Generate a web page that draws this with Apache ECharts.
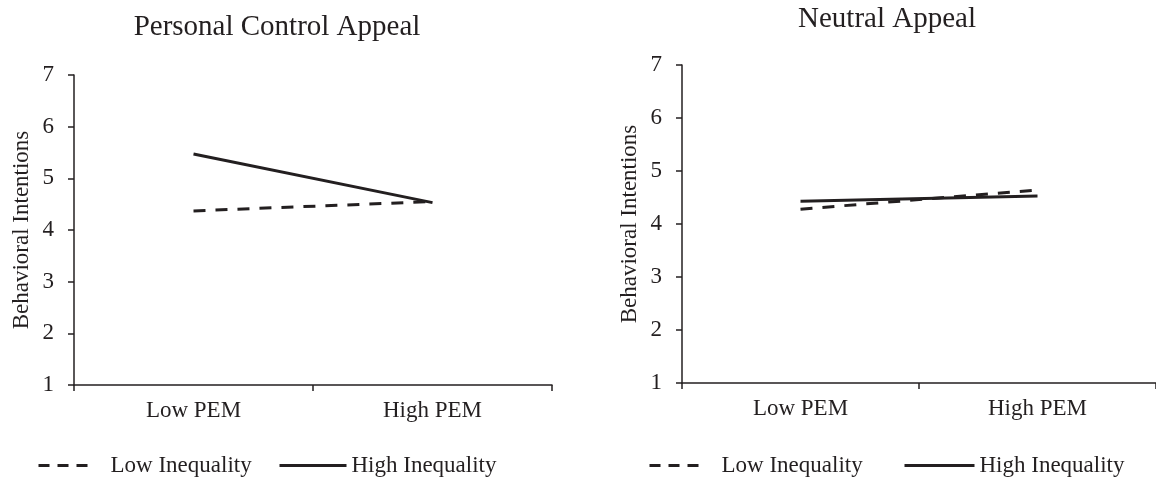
<!DOCTYPE html>
<html>
<head>
<meta charset="utf-8">
<script src="https://cdn.jsdelivr.net/npm/echarts@6/dist/echarts.min.js"></script>
<style>html,body{margin:0;padding:0;background:#fff}#c{width:1156px;height:479px}</style>
</head>
<body>
<div id="c"></div>
<script>
var categories = ['Low PEM', 'High PEM'];
var yTicks = [1, 2, 3, 4, 5, 6, 7];
var titles = ['Personal Control Appeal', 'Neutral Appeal'];
var seriesNames = ['Low Inequality', 'High Inequality'];
var personalLow = [4.37, 4.55];
var personalHigh = [5.47, 4.53];
var neutralLow = [4.28, 4.64];
var neutralHigh = [4.43, 4.53];

var INK = '#231f20';
var FONT = '"Liberation Serif", "DejaVu Serif", serif';

function xAx(i) {
  return {
    type: 'category', gridIndex: i, data: categories, boundaryGap: true,
    axisLine: { lineStyle: { color: INK, width: 1.5 } },
    axisTick: { show: true, inside: false, length: 6, alignWithLabel: false, lineStyle: { color: INK, width: 1.5 } },
    axisLabel: { color: INK, fontFamily: FONT, fontSize: 23, margin: 14 }
  };
}
function yAx(i) {
  return {
    type: 'value', gridIndex: i, min: yTicks[0], max: yTicks[yTicks.length - 1], interval: 1,
    name: 'Behavioral Intentions', nameLocation: 'middle', nameGap: 41,
    nameTextStyle: { color: INK, fontFamily: FONT, fontSize: 23 },
    axisLine: { show: true, lineStyle: { color: INK, width: 1.5 } },
    axisTick: { show: true, inside: false, length: 6, lineStyle: { color: INK, width: 1.5 } },
    splitLine: { show: false },
    axisLabel: { color: INK, fontFamily: FONT, fontSize: 23, margin: 20,
      formatter: function (v) { return yTicks.indexOf(v) >= 0 ? String(v) : ''; } }
  };
}
function ser(name, data, i, dashed) {
  return {
    name: name, type: 'line', xAxisIndex: i, yAxisIndex: i, data: data,
    symbol: 'none', silent: true,
    lineStyle: { color: INK, width: 3, type: dashed ? [12, 10] : 'solid', cap: 'butt' },
    itemStyle: { color: INK }
  };
}
function leg(name, left, w, pad, dash) {
  return {
    data: [{ name: name, textStyle: { padding: [0, 0, 0, pad] } }],
    left: left, top: 454, padding: 0, itemWidth: w, itemHeight: 14,
    selectedMode: false,
    itemStyle: { opacity: 0 },
    lineStyle: { width: 3, type: dash ? [11, 8] : 'solid', color: INK, cap: 'butt' },
    textStyle: { color: INK, fontFamily: FONT, fontSize: 23 }
  };
}

var chart = echarts.init(document.getElementById('c'));
chart.setOption({
  animation: false,
  backgroundColor: '#fff',
  title: [
    { text: titles[0], left: 272, top: 8, textAlign: 'center',
      textStyle: { color: INK, fontFamily: FONT, fontSize: 29, fontWeight: 'normal' } },
    { text: titles[1], left: 882, top: 0, textAlign: 'center',
      textStyle: { color: INK, fontFamily: FONT, fontSize: 29, fontWeight: 'normal' } }
  ],
  grid: [
    { left: 74, top: 75, width: 478, height: 310 },
    { left: 682, top: 65, width: 480, height: 318 }
  ],
  xAxis: [xAx(0), xAx(1)],
  yAxis: [yAx(0), yAx(1)],
  legend: [
    leg(seriesNames[0], 37, 54, 13, true),
    leg(seriesNames[1], 278, 67, 0, false),
    leg(seriesNames[0], 648, 54, 13, true),
    leg(seriesNames[1], 903, 70, 0, false)
  ],
  series: [
    ser(seriesNames[0], personalLow, 0, true),
    ser(seriesNames[1], personalHigh, 0, false),
    ser(seriesNames[0], neutralLow, 1, true),
    ser(seriesNames[1], neutralHigh, 1, false)
  ]
});
</script>
</body>
</html>
